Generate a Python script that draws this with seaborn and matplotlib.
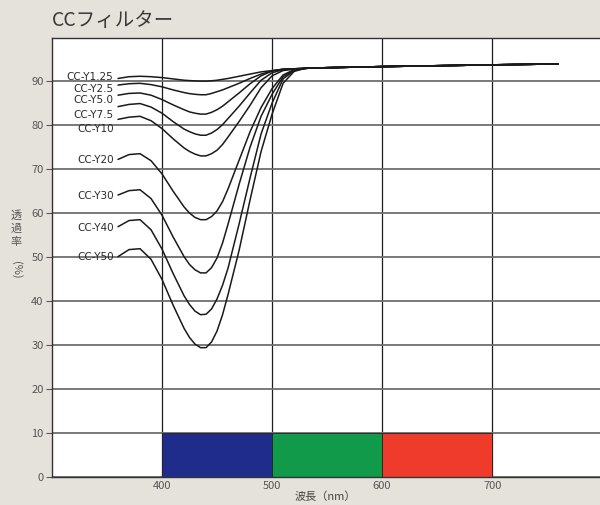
import numpy as np
import pandas as pd
import matplotlib as mpl
mpl.use('Agg')
import matplotlib.pyplot as plt
import seaborn as sns

# wavelength (nm) where each curve was read, then the shared plateau
wl = [360, 370, 380, 390, 400, 410, 420, 425, 430, 435, 440, 445, 450, 455, 460,
      470, 480, 490, 500, 510, 520, 530]
plateau_wl = [540, 560, 600, 650, 700, 760]
plateau_val = [93.0, 93.1, 93.3, 93.5, 93.7, 93.9]

filters = ['CC-Y1.25', 'CC-Y2.5', 'CC-Y5.0', 'CC-Y7.5', 'CC-Y10',
           'CC-Y20', 'CC-Y30', 'CC-Y40', 'CC-Y50']

y125 = [90.6, 91.0, 91.1, 91.0, 90.8, 90.5, 90.2, 90.12, 90.05, 90.0, 90.0, 90.08, 90.2, 90.4, 90.6,
        91.1, 91.6, 92.1, 92.4, 92.7, 92.8, 92.9]
y25 = [89.1, 89.4, 89.5, 89.2, 88.7, 88.0, 87.4, 87.15, 87.0, 86.9, 86.9, 87.2, 87.6, 88.0, 88.5,
       89.5, 90.6, 91.6, 92.3, 92.7, 92.8, 92.9]
y50 = [86.8, 87.2, 87.3, 86.8, 85.8, 84.6, 83.5, 83.0, 82.7, 82.5, 82.5, 82.9, 83.5, 84.3, 85.3,
       87.3, 89.4, 91.2, 92.3, 92.7, 92.8, 92.9]
y75 = [84.2, 84.7, 84.9, 84.1, 82.7, 80.8, 79.1, 78.5, 78.0, 77.7, 77.7, 78.2, 79.0, 80.1, 81.5,
       84.3, 87.3, 90.2, 91.9, 92.6, 92.8, 92.9]
y10 = [81.3, 81.8, 82.0, 81.0, 79.2, 76.9, 74.8, 74.0, 73.4, 73.0, 73.0, 73.5, 74.3, 75.6, 77.3,
       80.8, 84.5, 88.5, 91.2, 92.4, 92.7, 92.9]
y20 = [72.2, 73.3, 73.5, 71.9, 68.9, 65.0, 61.4, 60.0, 59.0, 58.5, 58.5, 59.2, 60.5, 62.6, 65.5,
       72.0, 78.5, 84.0, 88.3, 91.4, 92.6, 92.9]
y30 = [64.1, 65.1, 65.3, 63.3, 59.5, 54.6, 50.1, 48.3, 47.1, 46.4, 46.4, 47.6, 49.8, 53.2, 57.5,
       66.5, 75.0, 82.0, 87.0, 91.0, 92.5, 92.9]
y40 = [56.9, 58.3, 58.5, 56.2, 51.8, 46.3, 41.2, 39.2, 37.7, 36.9, 37.0, 38.2, 40.5, 43.6, 47.5,
       57.5, 68.0, 78.0, 85.0, 90.5, 92.4, 92.9]
y50b = [50.1, 51.7, 51.9, 49.5, 44.9, 39.1, 33.8, 31.7, 30.2, 29.4, 29.4, 30.7, 33.2, 36.9, 41.5,
        51.5, 63.0, 74.0, 82.5, 89.5, 92.2, 92.9]
curves = [y125, y25, y50, y75, y10, y20, y30, y40, y50b]

# where the filter names sit (transmittance %)
label_y = [90.9, 88.2, 85.7, 82.2, 79.2, 72.0, 63.8, 56.5, 50.0]

# RGB bands along the bottom
band_start = [400, 500, 600]
band_height = [10, 10, 10]
band_colors = ['#1f2c8c', '#119a4a', '#ee3b2c']

xticks = [400, 500, 600, 700]
yticks = [0, 10, 20, 30, 40, 50, 60, 70, 80, 90]

rows = []
for name, vals in zip(filters, curves):
    for x, v in zip(wl + plateau_wl, vals + plateau_val):
        rows.append((name, x, v))
df = pd.DataFrame(rows, columns=['filter', 'nm', 'T'])

sns.set_theme(style='white')
plt.rcParams['font.family'] = ['Noto Sans CJK JP', 'DejaVu Sans']

fig = plt.figure(figsize=(6, 5.05), dpi=100, facecolor='#e4e2da')
ax = fig.add_axes([52/600, 28/505, 548/600, 439/505])
ax.set_facecolor('white')

ax.bar(band_start, band_height, width=100, align='edge', color=band_colors,
       edgecolor='#222222', linewidth=0.6, zorder=2)

sns.lineplot(data=df, x='nm', y='T', hue='filter', palette=['#1a1a1a'] * len(filters),
             estimator=None, sort=False, linewidth=1.1, legend=False, ax=ax, zorder=3)

for name, yy in zip(filters, label_y):
    ax.text(356, yy, name, ha='right', va='center', fontsize=7.5,
            color='#2a2a2a', family=['DejaVu Sans'], zorder=4)

ax.set_xlim(300, 798)
ax.set_ylim(0, 99.8)
ax.set_xticks(xticks)
ax.set_yticks(yticks)
ax.tick_params(axis='x', length=0, pad=3, labelsize=8, labelcolor='#555555')
ax.tick_params(axis='y', length=4, width=0.8, color='#555555', pad=2,
               labelsize=8, labelcolor='#555555', left=True)
ax.set_axisbelow(True)
ax.grid(axis='y', color='#6e6e6e', linewidth=1.3)
ax.grid(axis='x', color='#1e1e1e', linewidth=0.9)
ax.set_xlabel('')
ax.set_ylabel('')
for side in ['left', 'top', 'bottom']:
    ax.spines[side].set_color('#333333')
    ax.spines[side].set_linewidth(1.0)
ax.spines['right'].set_visible(False)

fig.text(52/600, 1 - 20/505, 'CCフィルター', fontsize=14, color='#3a3a3a',
         ha='left', va='center')
fig.text(325/600, 1 - 497/505, '波長（nm）', fontsize=8, color='#444444',
         ha='center', va='center')
# vertical (tategaki) y label, one character per line
for ch, py in zip(['透', '過', '率'], [216, 229, 242]):
    fig.text(16/600, 1 - py/505, ch, fontsize=8, color='#555555',
             ha='center', va='center')
fig.text(16/600, 1 - 270/505, '(%)', fontsize=8, color='#555555',
         ha='center', va='center', rotation=-90)

fig.savefig('out.png', dpi=100, facecolor=fig.get_facecolor())
